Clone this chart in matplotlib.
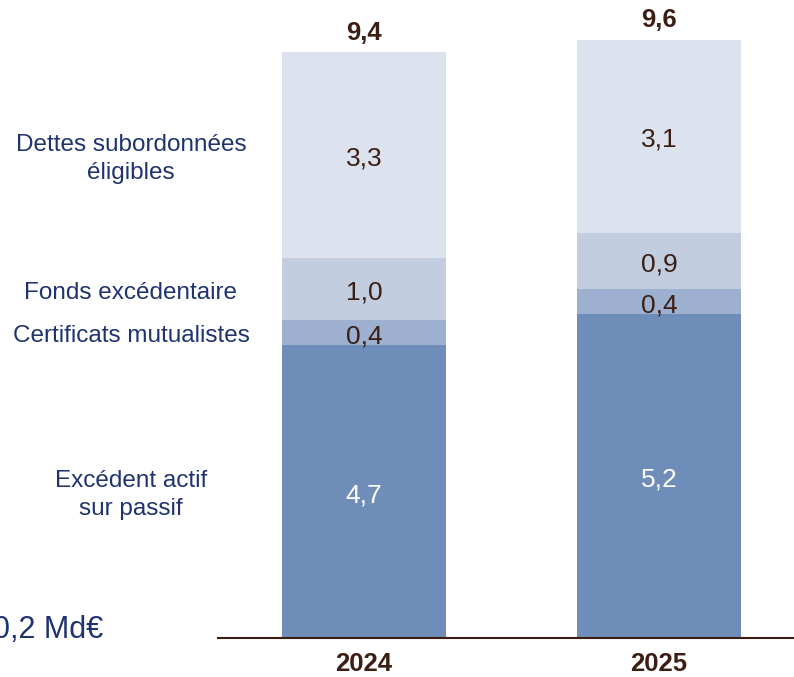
import numpy as np
import matplotlib
matplotlib.use('Agg')
import matplotlib.pyplot as plt

years = ['2024', '2025']
categories = [
    'Excédent actif\nsur passif',
    'Certificats mutualistes',
    'Fonds excédentaire',
    'Dettes subordonnées\néligibles',
]
values_2024 = [4.7, 0.4, 1.0, 3.3]
values_2025 = [5.2, 0.4, 0.9, 3.1]
totals = [9.4, 9.6]
delta_label = '+0,2 Md€'

colors = ['#6E8DB8', '#9DB0CF', '#C3CDE0', '#DDE3EE']
text_colors = ['white', '#3B1F14', '#3B1F14', '#3B1F14']
navy = '#1F3370'
brown = '#3B1F14'


def fmt(v):
    return f'{v:.1f}'.replace('.', ',')


plt.rcParams['font.family'] = ['Liberation Sans', 'DejaVu Sans']

fig = plt.figure(figsize=(7.94, 6.77), dpi=100)
ax = fig.add_axes([218 / 794, 39 / 677, 576 / 794, 623 / 677])

x = np.arange(len(years))
width = 0.556
series = np.array([values_2024, values_2025]).T
shift = 0.055  # nudge text down to match the reference baseline

bottom = np.zeros(len(years))
for i, cat in enumerate(categories):
    vals = series[i]
    ax.bar(x, vals, width, bottom=bottom, color=colors[i], edgecolor='none')
    for j in range(len(years)):
        yc = bottom[j] + vals[j] / 2 - shift
        ax.text(x[j], yc, fmt(vals[j]), ha='center', va='center',
                fontsize=19, color=text_colors[i])
    # category label on the left, aligned with the 2024 segment
    ax.text(-0.79, bottom[0] + vals[0] / 2 - shift, cat, ha='center', va='center',
            fontsize=17.5, color=navy, linespacing=1.35, clip_on=False)
    bottom = bottom + vals

for j in range(len(years)):
    ax.text(x[j], totals[j] + 0.12, fmt(totals[j]), ha='center', va='bottom',
            fontsize=18.5, fontweight='bold', color=brown)

ax.text(-0.885, 0.13, delta_label, ha='right', va='center',
        fontsize=22, color=navy, clip_on=False)

ax.set_xlim(-0.495, 1.458)
ax.set_ylim(0, 10)
ax.set_xticks(x)
ax.set_xticklabels(years, fontsize=18.5, fontweight='bold', color=brown)
ax.tick_params(axis='x', length=0, pad=10)
ax.set_yticks([])
for side in ['top', 'right', 'left']:
    ax.spines[side].set_visible(False)
ax.spines['bottom'].set_color(brown)
ax.spines['bottom'].set_linewidth(1.5)

fig.savefig('out.png', dpi=100)
